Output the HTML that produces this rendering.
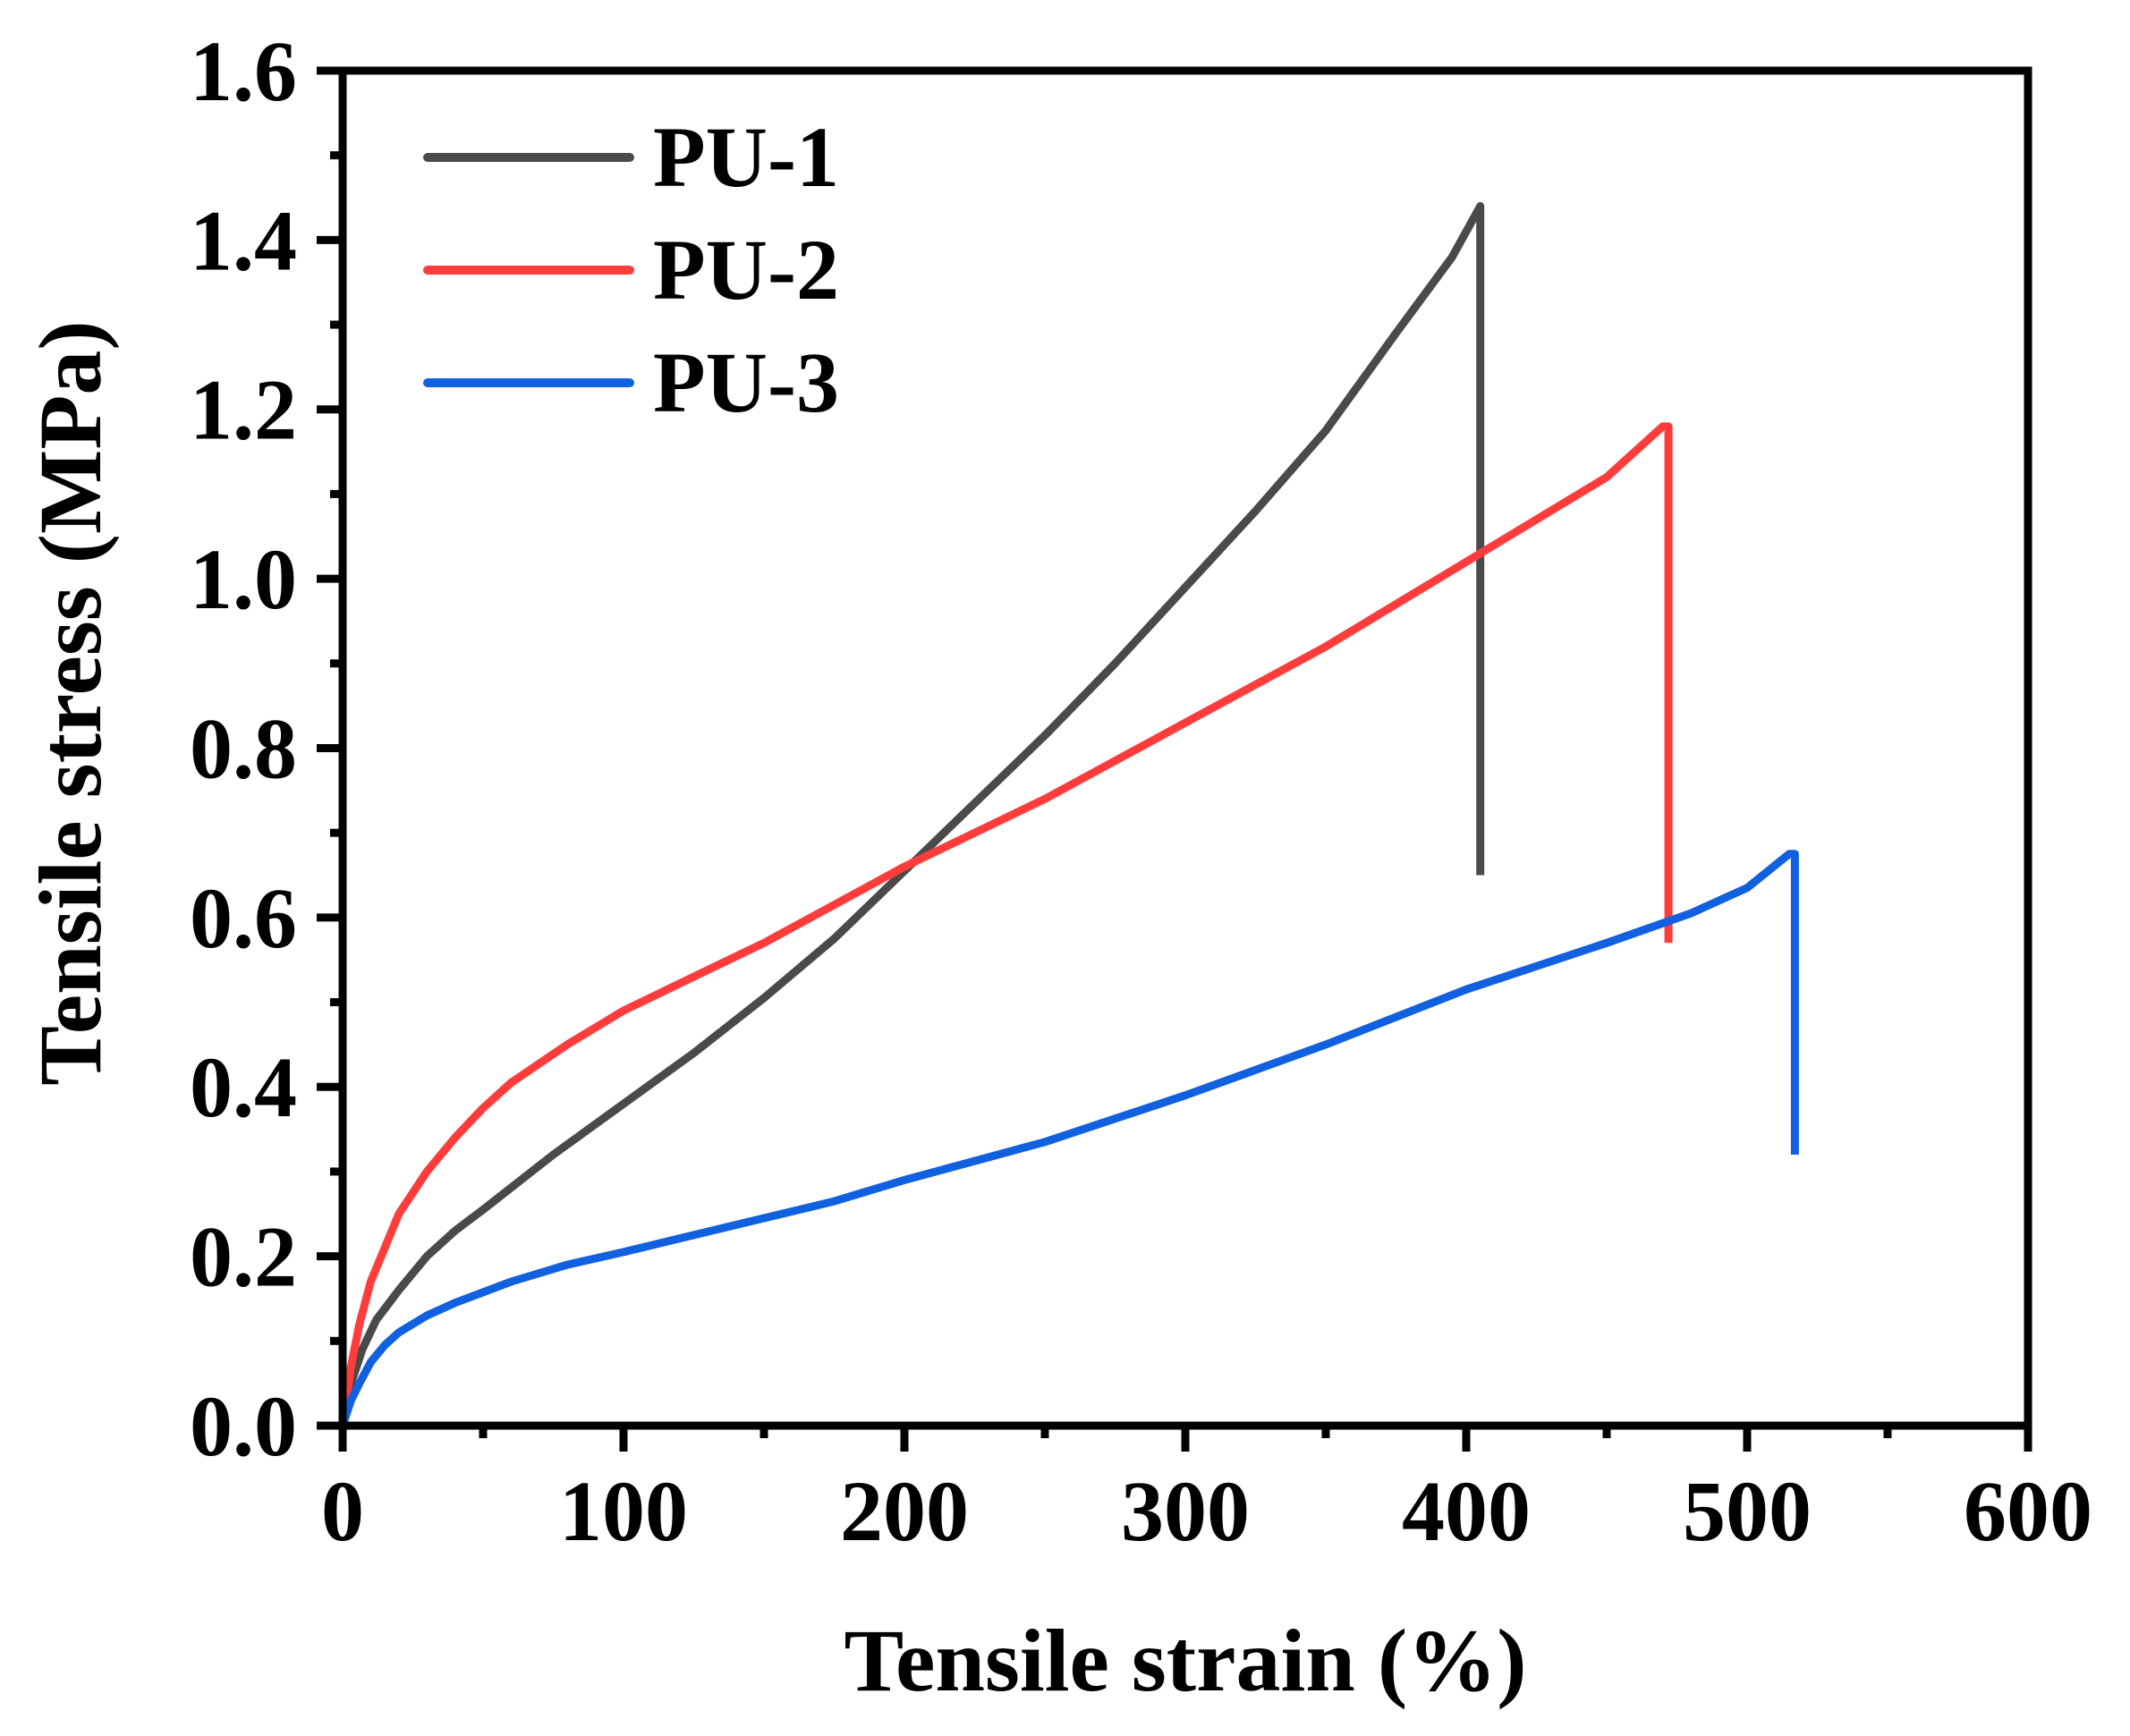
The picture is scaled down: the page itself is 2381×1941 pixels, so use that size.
<!DOCTYPE html>
<html><head><meta charset="utf-8"><style>
html,body{margin:0;padding:0;background:#fff;}
svg{display:block;font-family:"Liberation Serif",serif;font-weight:bold;}
</style></head><body>
<svg id="s" width="2381" height="1941" viewBox="0 0 2381 1941" xmlns="http://www.w3.org/2000/svg">
<rect width="2381" height="1941" fill="#fff"/>
<g id="ticks" stroke="#000" stroke-width="9"></g>
<g id="curves" fill="none" stroke-width="9" stroke-linejoin="round"></g>
<rect x="383" y="79" width="1884" height="1515" fill="none" stroke="#000" stroke-width="9"/>
<g font-size="96" text-anchor="end" id="ylab"></g>
<g font-size="96" text-anchor="middle" id="xlab"></g>
<text x="1325" y="1890" font-size="100" text-anchor="middle">Tensile strain (%)</text>
<text transform="translate(112,786) rotate(-90)" font-size="100" text-anchor="middle">Tensile stress (MPa)</text>
<line x1="478" y1="176" x2="704" y2="176" stroke="#4a4a4a" stroke-width="10" stroke-linecap="round"/>
<line x1="478" y1="302" x2="704" y2="302" stroke="#ff3c3c" stroke-width="10" stroke-linecap="round"/>
<line x1="478" y1="428" x2="704" y2="428" stroke="#1060e0" stroke-width="10" stroke-linecap="round"/>
<text x="730" y="208" font-size="96">PU-1</text>
<text x="730" y="334" font-size="96">PU-2</text>
<text x="730" y="460" font-size="96">PU-3</text>
</svg>
<script>
var NS="http://www.w3.org/2000/svg";
function X(v){return 383+3.14*v;}function Y(v){return 1594-946.9*v;}
function el(p,t,a,txt){var e=document.createElementNS(NS,t);for(var k in a)e.setAttribute(k,a[k]);if(txt!=null)e.textContent=txt;document.getElementById(p).appendChild(e);}
for(var i=0;i<=12;i++){var x=X(i*50);el("ticks","line",{x1:x,y1:1594,x2:x,y2:i%2?1608:1623});}
for(var i=0;i<=16;i++){var y=Y(i*0.1);el("ticks","line",{x1:383,y1:y,x2:i%2?369:354,y2:y});}
for(var i=0;i<=6;i++)el("xlab","text",{x:X(i*100),y:1722},String(i*100));
for(var i=0;i<=8;i++)el("ylab","text",{x:332,y:Y(i*0.2)+33},(i*0.2).toFixed(1));
var d={"#4a4a4a":[[0,0],[3,.05],[7,.09],[12,.125],[20,.16],[30,.2],[40,.23],[50,.255],[75,.32],[100,.38],[125,.44],[150,.505],[175,.575],[200,.655],[225,.735],[250,.815],[275,.9],[300,.99],[325,1.08],[350,1.175],[375,1.29],[395,1.38],[405,1.44],[405,.65]],
"#ff3c3c":[[0,0],[3,.07],[6,.12],[10,.17],[15,.21],[20,.25],[30,.3],[40,.34],[50,.375],[60,.405],[80,.45],[100,.49],[125,.53],[150,.57],[175,.615],[200,.66],[225,.7],[250,.74],[275,.785],[300,.83],[350,.92],[400,1.02],[450,1.12],[470,1.18],[472,1.18],[472,.57]],
"#1060e0":[[0,0],[3,.03],[6,.05],[10,.075],[15,.095],[20,.11],[30,.13],[40,.145],[60,.17],[80,.19],[100,.205],[125,.225],[150,.245],[175,.265],[200,.29],[250,.335],[300,.39],[350,.45],[400,.515],[450,.57],[480,.605],[500,.635],[515,.675],[517,.675],[517,.32]]};
for(var c in d){var p=d[c].map(function(q,j){return (j?"L":"M")+X(q[0]).toFixed(1)+" "+Y(q[1]).toFixed(1);}).join(" ");el("curves","path",{d:p,stroke:c});}
</script>
</body></html>
